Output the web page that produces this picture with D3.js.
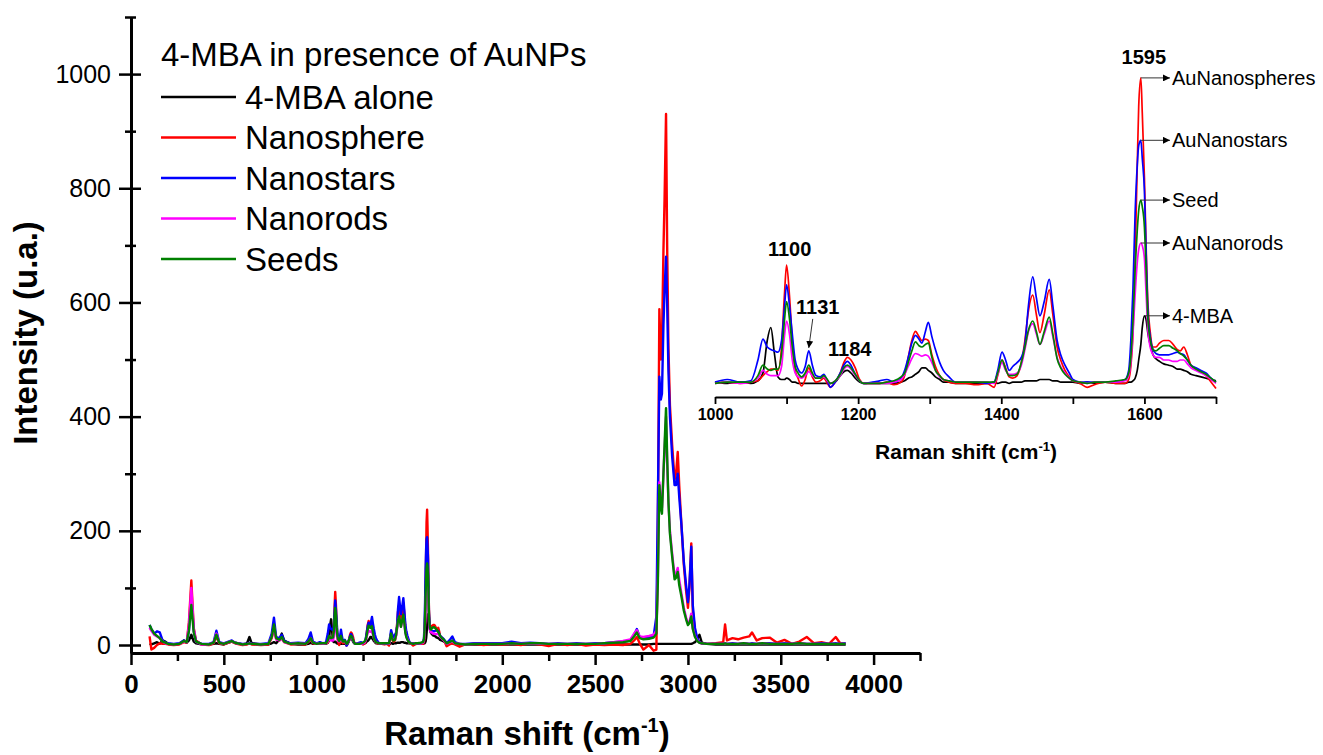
<!DOCTYPE html>
<html>
<head>
<meta charset="utf-8">
<script src="https://cdn.jsdelivr.net/npm/d3@7/dist/d3.min.js"></script>
<style>
  body { margin: 0; background: #fff; }
  svg text { font-family: "Liberation Sans", Arial, sans-serif; fill: #000; }
</style>
</head>
<body>
<svg id="chart" width="1323" height="755"></svg>
<script>
// Raman shift grid (cm-1): low range, fingerprint 1000-1700 (dense), high range
const ramanShift = [
  100, 110, 125, 140, 155, 170, 185, 200, 230, 260,
  285, 300, 312, 325, 338, 350, 380, 420, 445, 460,
  475, 500, 525, 543, 560, 600, 625, 638, 650, 700,
  740, 758, 770, 782, 800, 812, 825, 860, 900, 940,
  955, 968, 980,
  // fingerprint region
  1000, 1017, 1035, 1050, 1060, 1067, 1073, 1078, 1083, 1088,
  1093, 1097, 1100, 1104, 1108, 1112, 1116, 1121, 1126, 1131,
  1136, 1141, 1147, 1152, 1157, 1161, 1168, 1175, 1180, 1185,
  1190, 1196, 1202, 1208, 1220, 1230, 1240, 1250, 1260, 1265,
  1270, 1275, 1280, 1285, 1289, 1294, 1298, 1303, 1308, 1314,
  1319, 1327, 1336, 1350, 1365, 1380, 1390, 1395, 1401, 1406,
  1411, 1416, 1422, 1428, 1433, 1438, 1444, 1449, 1454, 1460,
  1467, 1472, 1478, 1483, 1489, 1495, 1500, 1510, 1520, 1530,
  1545, 1560, 1573, 1578, 1581, 1584, 1587, 1590, 1592, 1595,
  1597, 1600, 1602, 1605, 1608, 1612, 1616, 1621, 1627, 1634,
  1640, 1646, 1650, 1655, 1660, 1665, 1672, 1679, 1686, 1693, 1700,
  // high range
  1720, 1731, 1745, 1770, 1800, 1850, 1900, 1950, 2000, 2050,
  2100, 2150, 2200, 2250, 2300, 2350, 2400, 2450, 2500, 2550,
  2600, 2650, 2690, 2710, 2725, 2740, 2760, 2790, 2815, 2830,
  2838, 2846, 2854, 2860, 2868, 2874, 2882, 2888, 2895, 2903,
  2915, 2928, 2936, 2945, 2953, 2965, 2978, 2990, 3000, 3008,
  3018, 3026, 3038, 3050, 3062, 3075, 3100, 3150, 3190, 3200,
  3210, 3240, 3270, 3300, 3330, 3345, 3370, 3400, 3440, 3480,
  3520, 3560, 3600, 3640, 3680, 3720, 3760, 3796, 3820, 3850
];

const mbaAlone = [
  2, 1, 3, 5, 2, 8, 6, 2, 1, 2,
  8, 4, 8, 18, 6, 3, 1, 1, 2, 3,
  2, 1, 4, 6, 4, 1, 3, 14, 3, 1,
  1, 3, 5, 3, 10, 20, 8, 2, 1, 1,
  2, 4, 2,
  3, 2, 3, 2, 4, 10, 35, 45, 25, 7,
  5, 5, 6, 5, 3, 3, 2, 2, 2, 2,
  2, 2, 2, 2, 2, 2, 3, 8, 11, 12,
  10, 6, 3, 2, 2, 2, 2, 2, 3, 4,
  6, 7, 9, 11, 14, 14, 12, 10, 7, 5,
  3, 3, 2, 2, 2, 2, 3, 2, 3, 3,
  2, 3, 3, 3, 4, 4, 4, 4, 5, 5,
  5, 4, 4, 3, 3, 3, 3, 2, 3, 2,
  3, 2, 2, 3, 3, 4, 6, 12, 20, 32,
  45, 54, 52, 40, 32, 24, 21, 19, 17, 16,
  15, 13, 13, 12, 11, 9, 8, 7, 6, 5, 4,
  3, 3, 2, 1, 1, 1, 1, 1, 1, 1,
  1, 1, 1, 1, 1, 1, 1, 1, 1, 1,
  1, 1, 1, 1, 1, 1, 1, 1, 2, 2,
  2, 2, 2, 2, 2, 2, 2, 2, 2, 2,
  2, 2, 2, 2, 2, 2, 2, 2, 2, 2,
  2, 3, 5, 10, 18, 4, 2, 1, 1, 1,
  1, 1, 1, 1, 1, 1, 1, 1, 1, 1,
  1, 1, 1, 1, 1, 1, 1, 1, 1, 1
];

const nanosphere = [
  15, -8, -5, 0, 3, 2, 2, 1, 0, 1,
  5, 4, 40, 113, 30, 8, 1, 0, 3, 15,
  3, 1, 4, 6, 3, 0, 1, 3, 1, 0,
  1, 12, 30, 10, 8, 12, 5, 1, 2, 1,
  5, 10, 3,
  2, 3, 2, 3, 4, 8, 11, 13, 13, 12,
  30, 70, 93, 70, 35, 12, 6, 0, 5, 14,
  7, 3, 4, 6, 2, -1, 3, 10, 18, 22,
  20, 14, 5, 2, 2, 2, 3, 1, 3, 8,
  22, 35, 42, 38, 35, 36, 35, 24, 15, 8,
  5, 3, 2, 2, 1, 2, -1, 8, 20, 14,
  7, 6, 8, 18, 35, 58, 70, 55, 41, 55,
  74, 55, 30, 20, 12, 7, 4, 2, -1, 1,
  3, 2, 2, 5, 15, 40, 100, 170, 215, 237,
  210, 160, 115, 62, 42, 30, 30, 33, 35, 35,
  32, 28, 27, 30, 24, 16, 13, 11, 8, 3, -2,
  2, 3, 1, -3, 1, 2, 0, 2, 1, 2,
  0, 3, 1, -2, 2, 0, 2, -1, 1, 0,
  1, 0, 2, 8, 14, 3, -8, 0, -10, -8,
  200, 588, 500, 530, 690, 780, 930, 700, 520, 420,
  350, 290, 300, 338, 280, 210, 140, 95, 65, 100,
  178, 60, 25, 10, 5, 3, 2, 3, 5, 36,
  8, 12, 10, 13, 15, 22, 8, 12, 13, 4,
  9, 2, 6, 14, 3, 5, 2, 14, 3, 2
];

const nanostars = [
  35, 28, 20, 24, 22, 8, 4, 3, 2, 3,
  8, 5, 25, 85, 25, 6, 2, 2, 5, 25,
  5, 3, 6, 8, 4, 2, 2, 4, 2, 2,
  3, 20, 48, 14, 12, 18, 7, 3, 4, 3,
  10, 22, 6,
  3, 5, 3, 4, 20, 36, 30, 28, 27, 26,
  35, 60, 78, 62, 40, 20, 13, 10, 15, 27,
  16, 8, 7, 9, 4, -1, 3, 10, 16, 19,
  16, 9, 4, 2, 3, 4, 5, 3, 6, 12,
  22, 33, 39, 36, 33, 42, 49, 38, 28, 18,
  12, 7, 3, 3, 3, 2, 3, 12, 26, 20,
  12, 15, 18, 22, 32, 62, 84, 68, 54, 65,
  82, 62, 35, 24, 16, 10, 5, 3, 3, 3,
  3, 3, 5, 12, 35, 75, 133, 170, 185, 189,
  175, 150, 110, 56, 38, 28, 25, 24, 24, 24,
  25, 26, 25, 24, 20, 16, 14, 12, 10, 6, 3,
  10, 15, 5, 2, 2, 3, 3, 3, 3, 6,
  3, 4, 3, 2, 3, 2, 3, 2, 3, 3,
  5, 6, 8, 18, 28, 14, 12, 14, 15, 50,
  250, 470, 430, 440, 560, 620, 680, 600, 480, 400,
  330, 280, 280, 300, 260, 210, 145, 105, 75, 105,
  172, 70, 30, 12, 5, 3, 2, 2, 2, 3,
  2, 3, 2, 3, 2, 3, 2, 3, 3, 2,
  3, 2, 3, 2, 2, 3, 2, 3, 2, 3
];

const nanorods = [
  30, 25, 18, 15, 12, 6, 3, 2, 1, 2,
  6, 5, 35, 100, 28, 6, 1, 1, 4, 20,
  4, 2, 5, 7, 4, 1, 2, 3, 2, 1,
  2, 14, 32, 10, 8, 12, 5, 2, 3, 2,
  6, 12, 4,
  2, 3, 2, 3, 6, 12, 9, 8, 8, 8,
  15, 38, 50, 40, 20, 10, 7, 6, 8, 11,
  8, 6, 6, 7, 4, 2, 4, 8, 13, 15,
  13, 8, 4, 2, 2, 2, 2, 3, 5, 9,
  15, 21, 25, 24, 23, 24, 23, 18, 12, 7,
  5, 4, 3, 3, 3, 3, 2, 9, 18, 12,
  9, 9, 10, 16, 28, 42, 48, 40, 32, 40,
  50, 38, 22, 15, 10, 6, 4, 3, 2, 3,
  3, 3, 4, 8, 18, 40, 70, 95, 105, 110,
  108, 98, 75, 42, 30, 24, 22, 22, 20, 20,
  19, 19, 20, 20, 17, 14, 12, 10, 8, 5, 2,
  5, 6, 3, 2, 1, 2, 2, 2, 2, 3,
  2, 3, 2, 2, 2, 2, 2, 2, 2, 3,
  5, 7, 10, 20, 26, 15, 14, 16, 18, 25,
  120, 285, 250, 240, 300, 340, 400, 320, 250, 200,
  160, 120, 125, 135, 115, 90, 65, 48, 38, 40,
  55, 30, 15, 8, 4, 3, 2, 2, 2, 3,
  2, 2, 2, 3, 2, 2, 2, 3, 2, 2,
  2, 2, 3, 2, 2, 2, 2, 2, 2, 2
];

const seeds = [
  35, 28, 20, 16, 12, 6, 4, 2, 1, 2,
  7, 5, 25, 70, 22, 6, 2, 1, 4, 18,
  4, 2, 5, 7, 4, 1, 2, 3, 2, 1,
  2, 14, 36, 12, 9, 14, 6, 2, 3, 2,
  6, 12, 4,
  2, 3, 3, 3, 8, 16, 13, 12, 13, 13,
  25, 50, 65, 52, 30, 15, 10, 7, 10, 16,
  10, 6, 6, 8, 5, 2, 4, 9, 14, 16,
  14, 9, 4, 2, 2, 2, 3, 4, 7, 10,
  18, 27, 34, 31, 30, 32, 33, 22, 12, 8,
  5, 4, 3, 3, 3, 3, 3, 10, 20, 13,
  8, 8, 9, 18, 30, 43, 50, 42, 32, 42,
  53, 40, 21, 14, 9, 6, 4, 3, 2, 3,
  3, 4, 5, 10, 22, 50, 90, 120, 135, 143,
  138, 122, 95, 50, 36, 28, 27, 29, 31, 31,
  29, 27, 25, 23, 20, 16, 13, 11, 9, 6, 3,
  6, 8, 3, 2, 1, 2, 2, 2, 2, 3,
  2, 3, 3, 2, 2, 2, 2, 2, 2, 3,
  4, 5, 7, 15, 22, 12, 10, 11, 13, 20,
  110, 280, 240, 230, 300, 350, 415, 330, 250, 195,
  155, 115, 118, 128, 105, 85, 60, 45, 35, 38,
  50, 28, 14, 7, 4, 3, 2, 2, 2, 3,
  2, 2, 2, 3, 2, 2, 2, 3, 2, 2,
  2, 2, 3, 2, 2, 2, 2, 2, 2, 2
];

const legendTitle = '4-MBA in presence of AuNPs';
const legendNames = ['4-MBA alone', 'Nanosphere', 'Nanostars', 'Nanorods', 'Seeds'];
const insetNames = ['4-MBA', 'AuNanospheres', 'AuNanostars', 'AuNanorods', 'Seed'];
const insetPeakLabels = [1100, 1131, 1184, 1595];
const xTicks = [0, 500, 1000, 1500, 2000, 2500, 3000, 3500, 4000];
const yTicks = [0, 200, 400, 600, 800, 1000];
const insetTicks = [1000, 1200, 1400, 1600];

const colors = ['#000000', '#ff0000', '#0000ff', '#ff00ff', '#008000'];
const seriesValues = [mbaAlone, nanosphere, nanostars, nanorods, seeds];

const series = seriesValues.map((vals, i) => ({
  name: legendNames[i],
  inset: insetNames[i],
  color: colors[i],
  points: ramanShift.map((s, j) => [s, vals[j]])
}));

const svg = d3.select('#chart');
const fontStack = '"Liberation Sans", Arial, sans-serif';

// ---------- main plot ----------
const x = d3.scaleLinear().domain([0, 4250]).range([131, 920]);
const y = d3.scaleLinear().domain([-14, 1100]).range([653, 17]);

const line = d3.line()
  .x(d => x(d[0]))
  .y(d => y(d[1]));

const main = svg.append('g');

series.forEach(s => {
  main.append('path')
    .datum(s.points)
    .attr('fill', 'none')
    .attr('stroke', s.color)
    .attr('stroke-width', 2.4)
    .attr('stroke-linejoin', 'round')
    .attr('d', line);
});

// x axis
const xAxis = main.append('g')
  .attr('transform', `translate(0,${y.range()[0]})`)
  .call(d3.axisBottom(x).tickValues(xTicks).tickSize(12).tickSizeOuter(0)
    .tickPadding(10).tickFormat(d3.format('d')));
xAxis.select('.domain').attr('stroke-width', 3);
xAxis.selectAll('.tick line').attr('stroke-width', 2.5);
xAxis.selectAll('.tick text')
  .attr('font-size', 26).attr('font-weight', 'bold')
  .style('font-family', fontStack);

const xMinor = d3.range(250, 4251, 500);
main.append('g')
  .attr('transform', `translate(0,${y.range()[0]})`)
  .call(d3.axisBottom(x).tickValues(xMinor).tickSize(8).tickFormat(''))
  .call(g => g.select('.domain').remove())
  .selectAll('.tick line').attr('stroke-width', 2.5);

// y axis (ticks cross the spine)
const yAxis = main.append('g')
  .attr('transform', `translate(${x.range()[0]},0)`)
  .call(d3.axisLeft(y).tickValues(yTicks).tickSize(12).tickSizeOuter(0)
    .tickPadding(8).tickFormat(d3.format('d')));
yAxis.select('.domain').attr('stroke-width', 3);
yAxis.selectAll('.tick line').attr('x1', 10).attr('stroke-width', 2.5);
yAxis.selectAll('.tick text')
  .attr('font-size', 25)
  .style('font-family', fontStack);

const yMinor = d3.range(100, 1101, 200);
main.append('g')
  .attr('transform', `translate(${x.range()[0]},0)`)
  .call(d3.axisLeft(y).tickValues(yMinor).tickSize(6).tickFormat(''))
  .call(g => g.select('.domain').remove())
  .selectAll('.tick line').attr('x1', 5).attr('stroke-width', 2.5);

// axis titles
const xTitle = main.append('text')
  .attr('x', 527).attr('y', 745)
  .attr('text-anchor', 'middle')
  .attr('font-size', 33).attr('font-weight', 'bold');
xTitle.append('tspan').text('Raman shift (cm');
xTitle.append('tspan').attr('font-size', 20).attr('dy', -13).text('-1');
xTitle.append('tspan').attr('dy', 13).text(')');

main.append('text')
  .attr('transform', 'translate(37,333) rotate(-90)')
  .attr('text-anchor', 'middle')
  .attr('font-size', 33).attr('font-weight', 'bold')
  .text('Intensity (u.a.)');

// legend
const legend = main.append('g').attr('transform', 'translate(161,0)');
legend.append('text').attr('x', 0).attr('y', 66).attr('font-size', 33).text(legendTitle);
series.forEach((s, i) => {
  const ly = 97 + i * 40.5;
  legend.append('line')
    .attr('x1', 0).attr('x2', 75).attr('y1', ly).attr('y2', ly)
    .attr('stroke', s.color).attr('stroke-width', 2.5);
  legend.append('text')
    .attr('x', 84).attr('y', ly).attr('dy', '0.35em')
    .attr('font-size', 33).text(s.name);
});

// ---------- inset ----------
const xi = d3.scaleLinear().domain([1000, 1700]).range([715, 1216]);
const yi = d3.scaleLinear().domain([0, 250]).range([386, 61]);
const inRange = p => p[0] >= 1000 && p[0] <= 1700;

const lineInset = d3.line()
  .x(d => xi(d[0]))
  .y(d => yi(d[1]))
  .curve(d3.curveMonotoneX);

const inset = svg.append('g');

svg.append('defs').append('marker')
  .attr('id', 'arrow')
  .attr('viewBox', '0 0 10 10')
  .attr('refX', 10).attr('refY', 5)
  .attr('markerWidth', 7).attr('markerHeight', 7)
  .attr('markerUnits', 'userSpaceOnUse')
  .attr('orient', 'auto')
  .append('path').attr('d', 'M0,0L10,5L0,10Z').attr('fill', '#000');

series.forEach(s => {
  inset.append('path')
    .datum(s.points.filter(inRange))
    .attr('fill', 'none')
    .attr('stroke', s.color)
    .attr('stroke-width', 1.7)
    .attr('d', lineInset);
});

const insetAxis = inset.append('g')
  .attr('transform', 'translate(0,397)')
  .call(d3.axisBottom(xi).tickValues(d3.range(1000, 1701, 100)).tickSize(7).tickSizeOuter(0)
    .tickPadding(5).tickFormat(d => insetTicks.includes(d) ? d : ''));
insetAxis.select('.domain').attr('stroke-width', 2);
insetAxis.selectAll('.tick line').attr('stroke-width', 1.8);
insetAxis.selectAll('.tick text')
  .attr('font-size', 16).attr('font-weight', 'bold')
  .style('font-family', fontStack);

const xiTitle = inset.append('text')
  .attr('x', 966).attr('y', 459)
  .attr('text-anchor', 'middle')
  .attr('font-size', 21).attr('font-weight', 'bold');
xiTitle.append('tspan').text('Raman shift (cm');
xiTitle.append('tspan').attr('font-size', 13).attr('dy', -8).text('-1');
xiTitle.append('tspan').attr('dy', 8).text(')');

// peak labels
function peakAt(shift) {
  let best = -Infinity;
  series.forEach(s => s.points.forEach(p => {
    if (Math.abs(p[0] - shift) <= 3 && p[1] > best) best = p[1];
  }));
  return best;
}
insetPeakLabels.forEach(shift => {
  const px = xi(shift);
  const py = yi(peakAt(shift));
  if (shift === 1131) {
    inset.append('text')
      .attr('x', px + 9).attr('y', py - 37)
      .attr('text-anchor', 'middle')
      .attr('font-size', 20).attr('font-weight', 'bold').text(shift);
    inset.append('line')
      .attr('x1', px + 4).attr('y1', py - 32).attr('x2', px).attr('y2', py - 3)
      .attr('stroke', '#333').attr('stroke-width', 1)
      .attr('marker-end', 'url(#arrow)');
  } else {
    const gap = shift === 1595 ? 14 : (shift === 1184 ? 1 : 9);
    inset.append('text')
      .attr('x', px + 3).attr('y', py - gap)
      .attr('text-anchor', 'middle')
      .attr('font-size', 20).attr('font-weight', 'bold').text(shift);
  }
});

// sample labels with arrows at the 1595 band
series.forEach(s => {
  const band = s.points.filter(p => p[0] >= 1590 && p[0] <= 1605);
  const top = band.reduce((a, b) => (b[1] > a[1] ? b : a));
  const ly = yi(top[1]);
  inset.append('line')
    .attr('x1', xi(top[0])).attr('x2', 1170).attr('y1', ly).attr('y2', ly)
    .attr('stroke', '#333').attr('stroke-width', 1)
    .attr('marker-end', 'url(#arrow)');
  inset.append('text')
    .attr('x', 1172).attr('y', ly).attr('dy', '0.35em')
    .attr('font-size', 20).text(s.inset);
});
</script>
</body>
</html>
